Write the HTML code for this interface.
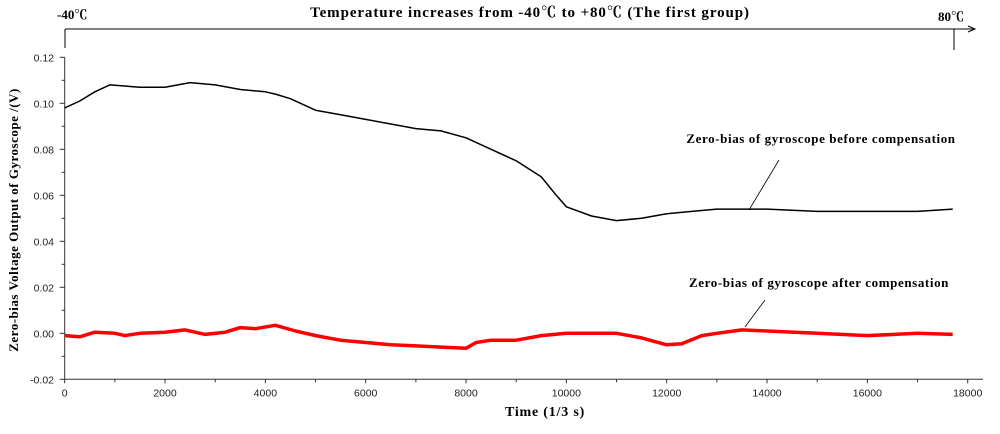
<!DOCTYPE html>
<html><head><meta charset="utf-8"><style>
body{margin:0;background:#fff;width:1000px;height:434px;overflow:hidden}
svg{display:block}
.tk{font-family:"Liberation Sans",sans-serif;font-size:10.5px;fill:#222}
.sf{font-family:"Liberation Serif","Noto Serif CJK SC",serif;font-weight:bold;fill:#000}
</style></head><body>
<svg id="chart" width="1000" height="434">
<g>
<text class="sf" x="530" y="17" font-size="15" letter-spacing="0.9" text-anchor="middle">Temperature increases from -40℃  to +80℃  (The first group)</text>
<text class="sf" x="57" y="19" font-size="13" font-weight="normal">-40℃</text>
<text class="sf" x="938" y="21" font-size="13" font-weight="normal">80℃</text>
<line x1="65" y1="29" x2="974" y2="29" stroke="#000"/>
<path d="M968,26 L975,29 L968,32" fill="none" stroke="#000"/>
<line x1="65" y1="29" x2="65" y2="48" stroke="#000"/>
<line x1="954" y1="29" x2="954" y2="50" stroke="#000"/>
</g>
<g id="axes"></g>
<g id="series"></g>
<text class="sf" x="821" y="143" font-size="13" letter-spacing="0.6" text-anchor="middle">Zero-bias of gyroscope before compensation</text>
<line x1="779" y1="160" x2="749" y2="210" stroke="#000" stroke-width="0.8"/>
<text class="sf" x="819" y="287" font-size="13" letter-spacing="0.6" text-anchor="middle">Zero-bias of gyroscope after compensation</text>
<line x1="765" y1="300" x2="745" y2="327" stroke="#000" stroke-width="0.8"/>
<text class="sf" x="545" y="416" font-size="14" letter-spacing="0.8" text-anchor="middle">Time  (1/3 s)</text>
<text class="sf" x="0" y="0" font-size="13" letter-spacing="0.5" text-anchor="middle" transform="translate(18,220) rotate(-90)">Zero-bias Voltage Output of Gyroscope /(V)</text>
</svg>
<script>
const xTicks=[0,2000,4000,6000,8000,10000,12000,14000,16000,18000];
const yTicks=[-0.02,0.00,0.02,0.04,0.06,0.08,0.10,0.12];
const yLabels=["-0.02","0.00","0.02","0.04","0.06","0.08","0.10","0.12"];
const beforeT=[0,300,600,900,1500,2000,2500,3000,3500,4000,4200,4500,5000,5500,6000,6500,7000,7500,8000,8500,9000,9500,9800,10000,10500,11000,11500,12000,12500,13000,13500,14000,15000,16000,17000,17700];
const beforeV=[0.098,0.101,0.105,0.108,0.107,0.107,0.109,0.108,0.106,0.105,0.104,0.102,0.097,0.095,0.093,0.091,0.089,0.088,0.085,0.080,0.075,0.068,0.060,0.055,0.051,0.049,0.050,0.052,0.053,0.054,0.054,0.054,0.053,0.053,0.053,0.054];
const afterT=[0,300,600,1000,1200,1500,2000,2400,2800,3200,3500,3800,4200,4600,5000,5500,6000,6500,7000,7500,8000,8200,8500,9000,9500,10000,10500,11000,11500,12000,12300,12700,13000,13500,14000,15000,16000,17000,17700];
const afterV=[-0.001,-0.0015,0.0005,0,-0.001,0,0.0005,0.0015,-0.0005,0.0005,0.0025,0.002,0.0035,0.001,-0.001,-0.003,-0.004,-0.005,-0.0055,-0.006,-0.0065,-0.004,-0.003,-0.003,-0.001,0,0,0,-0.002,-0.005,-0.0045,-0.001,0,0.0015,0.001,0,-0.001,0,-0.0005];
const NS='http://www.w3.org/2000/svg';
const X=v=>64.7+v*(967.7-64.7)/18000;
const Y=v=>333.3-v*(379.3-333.3)/0.02;
const axes=document.getElementById('axes'), series=document.getElementById('series');
function mk(tag,at,parent){const e=document.createElementNS(NS,tag);for(const k in at)e.setAttribute(k,at[k]);parent.appendChild(e);return e;}
let e;
e=mk('line',{x1:64.7,y1:Y(0.12),x2:64.7,y2:Y(-0.02),stroke:'#333'},axes);


e=mk('line',{x1:64.7,y1:Y(-0.02),x2:983,y2:Y(-0.02),stroke:'#333'},axes);


for(let t=0;t<=18000;t+=1000){
 const major=t%2000===0;
 e=mk('line',{x1:X(t),y1:Y(-0.02),x2:X(t),y2:Y(-0.02)+(major?4:3),stroke:'#333'},axes);
 
 
}
xTicks.forEach(t=>{
 e=mk('text',{x:X(t),y:Y(-0.02)+17,'text-anchor':'middle',class:'tk'},axes);e.textContent=String(t);
 
 
});
for(let i=0;i<=14;i++){
 const v=-0.02+i*0.01, major=i%2===0;
 e=mk('line',{x1:64.7-(major?5:3),y1:Y(v),x2:64.7,y2:Y(v),stroke:'#333'},axes);
 
 
}
yTicks.forEach((v,i)=>{
 e=mk('text',{x:54,y:Y(v)+4,'text-anchor':'end',class:'tk'},axes);e.textContent=yLabels[i];
 
 
});
function line(T,V){return T.map((t,i)=>(i?'L':'M')+X(t).toFixed(1)+','+Y(V[i]).toFixed(1)).join(' ');}
e=mk('path',{d:line(beforeT,beforeV),fill:'none',stroke:'#000','stroke-width':1.5,'stroke-linejoin':'round'},series);


e=mk('path',{d:line(afterT,afterV),fill:'none',stroke:'#f00','stroke-width':3.5,'stroke-linejoin':'round'},series);


</script>
</body></html>
